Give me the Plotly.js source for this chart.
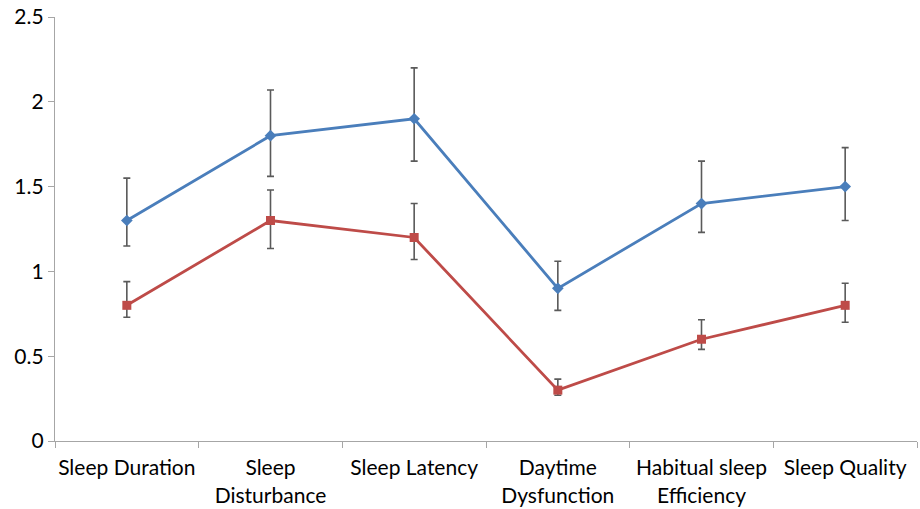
<!DOCTYPE html>
<html>
<head>
<meta charset="utf-8">
<script src="https://cdn.plot.ly/plotly-3.0.1.min.js"></script>
<style>html,body{margin:0;padding:0;background:#fff;}#chart{width:920px;height:509px;}</style>
</head>
<body>
<div id="chart"></div>
<script>
const categories = ["Sleep Duration", "Sleep<br>Disturbance", "Sleep Latency", "Daytime<br>Dysfunction", "Habitual sleep<br>Efficiency", "Sleep Quality"];
const blueValues = [1.3, 1.8, 1.9, 0.9, 1.4, 1.5];
const blueErrPlus = [0.25, 0.27, 0.30, 0.16, 0.25, 0.23];
const blueErrMinus = [0.15, 0.24, 0.25, 0.13, 0.17, 0.20];
const redValues = [0.8, 1.3, 1.2, 0.3, 0.6, 0.8];
const redErrPlus = [0.14, 0.18, 0.20, 0.065, 0.115, 0.13];
const redErrMinus = [0.07, 0.165, 0.13, 0.03, 0.06, 0.10];
const yTicks = [0, 0.5, 1, 1.5, 2, 2.5];
const yTickLabels = ["0", "0.5", "1", "1.5", "2", "2.5"];

const errStyle = {color: "#5a5a5a", thickness: 1.6, width: 3.5};
const fontFam = "Lato, 'Open Sans', sans-serif";

const traces = [
  {
    x: categories, y: blueValues, type: "scatter", mode: "lines+markers",
    line: {color: "#4a7ebb", width: 2.8},
    marker: {symbol: "diamond", size: 9, color: "#4a7ebb"},
    error_y: Object.assign({type: "data", symmetric: false, array: blueErrPlus, arrayminus: blueErrMinus}, errStyle),
    showlegend: false
  },
  {
    x: categories, y: redValues, type: "scatter", mode: "lines+markers",
    line: {color: "#be4b48", width: 2.8},
    marker: {symbol: "square", size: 9, color: "#be4b48"},
    error_y: Object.assign({type: "data", symmetric: false, array: redErrPlus, arrayminus: redErrMinus}, errStyle),
    showlegend: false
  }
];

const layout = {
  width: 920, height: 509,
  margin: {l: 55, r: 3, t: 17, b: 68},
  paper_bgcolor: "#fff", plot_bgcolor: "#fff",
  font: {family: fontFam, size: 21, color: "#000"},
  xaxis: {
    type: "category", range: [-0.5, 5.5],
    showline: true, linecolor: "#a6a6a6", linewidth: 1.2,
    ticks: "outside", tickson: "boundaries", ticklen: 6, tickcolor: "#a6a6a6",
    showgrid: false, zeroline: false,
    tickangle: 0,
    ticklabelstandoff: 8,
    tickfont: {size: 21, family: fontFam, color: "#000"},
    fixedrange: true
  },
  yaxis: {
    range: [0, 2.5], tickvals: yTicks, ticktext: yTickLabels,
    showline: true, linecolor: "#a6a6a6", linewidth: 1.2,
    ticks: "outside", ticklen: 6, tickcolor: "#a6a6a6",
    showgrid: false, zeroline: false,
    tickfont: {size: 21, family: fontFam, color: "#000"},
    fixedrange: true
  }
};

Plotly.newPlot("chart", traces, layout, {displayModeBar: false, staticPlot: true});
</script>
</body>
</html>
